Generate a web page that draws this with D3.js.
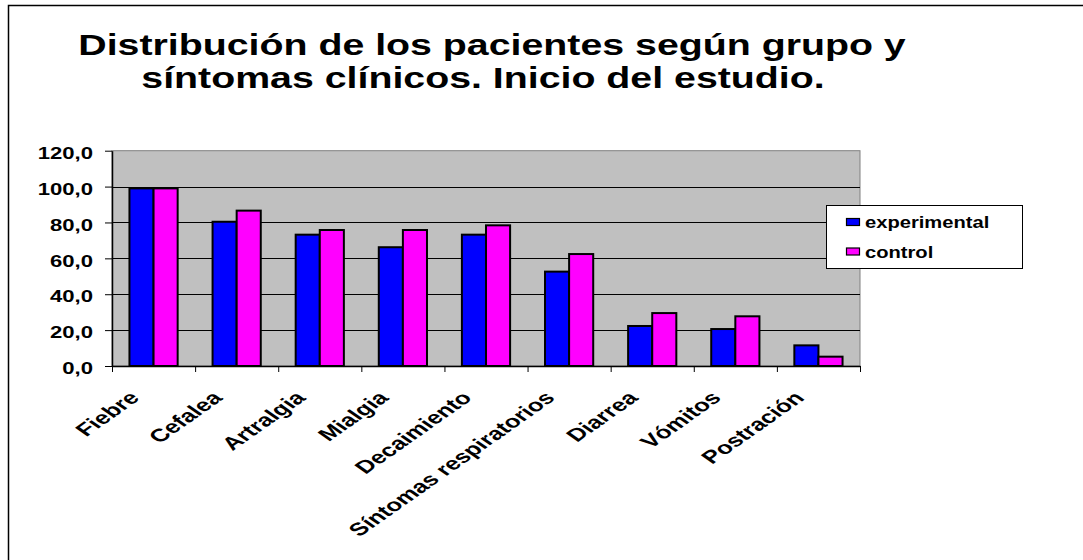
<!DOCTYPE html>
<html>
<head>
<meta charset="utf-8">
<script src="https://cdn.jsdelivr.net/npm/d3@7"></script>
<style>
  html, body { margin: 0; padding: 0; background: #fff; overflow: hidden; }
  svg { display: block; }
  text { font-family: "Liberation Sans", Arial, sans-serif; font-weight: bold; fill: #000; }
</style>
</head>
<body>
<div id="chart"></div>
<script>
const categories = ["Fiebre", "Cefalea", "Artralgia", "Mialgia", "Decaimiento",
    "Síntomas respiratorios", "Diarrea", "Vómitos", "Postración"];
const seriesNames = ["experimental", "control"];
const experimental = [99.0, 80.4, 73.2, 66.2, 73.2, 52.6, 22.3, 20.6, 11.5];
const control = [99.0, 86.6, 75.8, 75.8, 78.4, 62.4, 29.5, 27.7, 5.2];
const yTicks = [0, 20, 40, 60, 80, 100, 120];
const titleLines = ["Distribución de los pacientes según grupo y", "síntomas clínicos. Inicio del estudio."];

const colors = { experimental: "#0000ff", control: "#ff00ff" };
const values = { experimental, control };

const W = 1083, H = 560;
const plot = { left: 112, right: 860, top: 150.7, bottom: 366 };
const stretch = 1.3; // the picture is wider than tall, text is stretched too

const svg = d3.select("#chart").append("svg")
    .attr("width", W)
    .attr("height", H);

svg.append("rect").attr("width", W).attr("height", H).attr("fill", "#fff");

// outer frame (right / bottom edges fall outside the picture)
svg.append("path")
    .attr("d", `M8.5,${H}V5.5H${W}`)
    .attr("fill", "none").attr("stroke", "#000").attr("stroke-width", 1.5);

// title
const titleX = [492, 483], titleY = [55, 88];
titleLines.forEach((t, i) => {
    svg.append("text")
        .attr("transform", `translate(${titleX[i]},${titleY[i]}) scale(1.31,1)`)
        .attr("text-anchor", "middle")
        .style("font-size", "30px")
        .text(t);
});

const y = d3.scaleLinear().domain([0, 120]).range([plot.bottom, plot.top]);
const xTick = d3.scaleLinear().domain([0, categories.length]).range([plot.left, plot.right]);
const x0 = d3.scaleBand().domain(categories).range([plot.left, plot.right])
    .paddingInner(0.42).paddingOuter(0.21);
const x1 = d3.scaleBand().domain(seriesNames).range([0, x0.bandwidth()]);
const xCenter = d3.scaleBand().domain(categories).range([plot.left, plot.right]);

// plot background
svg.append("rect")
    .attr("x", plot.left).attr("y", plot.top)
    .attr("width", plot.right - plot.left).attr("height", plot.bottom - plot.top)
    .attr("fill", "#c0c0c0").attr("stroke", "#808080").attr("stroke-width", 1);

// gridlines
svg.append("g").selectAll("line")
    .data(yTicks.filter(d => d > 0 && d < 120))
    .enter().append("line")
    .attr("x1", plot.left).attr("x2", plot.right)
    .attr("y1", d => Math.round(y(d)) + 0.5).attr("y2", d => Math.round(y(d)) + 0.5)
    .attr("stroke", "#000").attr("stroke-width", 1);

// bars
const groups = svg.append("g").selectAll("g")
    .data(categories)
    .enter().append("g")
    .attr("transform", d => `translate(${x0(d)},0)`);

groups.selectAll("rect")
    .data((c, i) => seriesNames.map(s => ({ s, v: values[s][i] })))
    .enter().append("rect")
    .attr("x", d => x1(d.s))
    .attr("y", d => y(d.v))
    .attr("width", x1.bandwidth())
    .attr("height", d => y(0) - y(d.v))
    .attr("fill", d => colors[d.s])
    .attr("stroke", "#000")
    .attr("stroke-width", 2);

// y axis
const yAxis = svg.append("g")
    .attr("transform", `translate(${plot.left},0)`)
    .call(d3.axisLeft(y).tickValues(yTicks).tickSize(7).tickSizeOuter(0)
        .tickFormat(d => d3.format(".1f")(d).replace(".", ",")));
yAxis.select(".domain").attr("stroke", "#000").attr("stroke-width", 1.5);
yAxis.selectAll(".tick line").attr("stroke", "#000");
yAxis.selectAll(".tick text")
    .attr("x", null).attr("dy", "0.45em")
    .attr("transform", `translate(-19,0) scale(${stretch},1)`)
    .style("font-size", "17px");

// x axis
const xAxis = svg.append("g")
    .attr("transform", `translate(0,${plot.bottom})`)
    .call(d3.axisBottom(xTick).ticks(categories.length).tickSize(6).tickSizeOuter(0).tickFormat(""));
xAxis.select(".domain").attr("stroke", "#000").attr("stroke-width", 1.5);
xAxis.selectAll(".tick line").attr("stroke", "#000");

svg.append("g").selectAll("text")
    .data(categories)
    .enter().append("text")
    .attr("transform", d => `translate(${xCenter(d) + xCenter.bandwidth() / 2 - 13},399) scale(1.42,1) rotate(-45)`)
    .attr("text-anchor", "end")
    .style("font-size", "18px")
    .text(d => d);

// legend
const legend = svg.append("g");
legend.append("rect")
    .attr("x", 826.5).attr("y", 205.5).attr("width", 196).attr("height", 63)
    .attr("fill", "#fff").attr("stroke", "#000").attr("stroke-width", 1);
const legendY = [228, 257.5];
seriesNames.forEach((s, i) => {
    legend.append("rect")
        .attr("x", 846.5).attr("y", legendY[i] - 9.5)
        .attr("width", 13).attr("height", 7)
        .attr("fill", colors[s]).attr("stroke", "#000").attr("stroke-width", 1.2);
    legend.append("text")
        .attr("transform", `translate(865,${legendY[i]}) scale(1.26,1)`)
        .style("font-size", "16px")
        .text(s);
});
</script>
</body>
</html>
